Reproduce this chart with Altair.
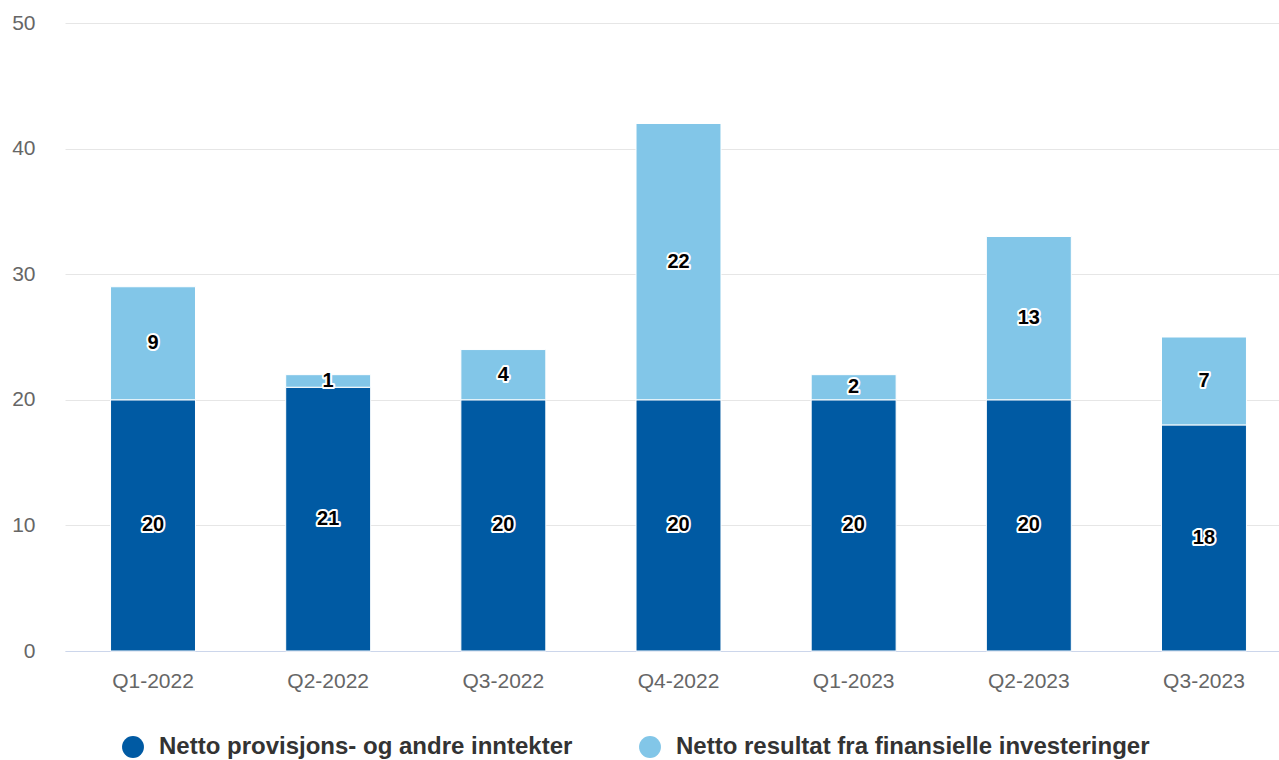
import altair as alt
import pandas as pd

# Quarterly figures (MNOK)
quarters = ["Q1-2022", "Q2-2022", "Q3-2022", "Q4-2022", "Q1-2023", "Q2-2023", "Q3-2023"]
provisjon = [20, 21, 20, 20, 20, 20, 18]
finansielle = [9, 1, 4, 22, 2, 13, 7]

series_names = [
    "Netto provisjons- og andre inntekter",
    "Netto resultat fra finansielle investeringer",
]
series_colors = ["#005aa3", "#82c6e8"]

rows = []
for q, a, b in zip(quarters, provisjon, finansielle):
    rows.append({"quarter": q, "series": series_names[0], "order": 0, "value": a})
    rows.append({"quarter": q, "series": series_names[1], "order": 1, "value": b})
df = pd.DataFrame(rows)

FONT = "Liberation Sans"

x_enc = alt.X(
    "quarter:N",
    sort=quarters,
    scale=alt.Scale(paddingInner=0.515, paddingOuter=0.26, range=[0, 1227]),
    axis=alt.Axis(
        title=None,
        labelAngle=0,
        labelFontSize=21,
        labelColor="#666666",
        labelFont=FONT,
        labelPadding=19,
        ticks=False,
        domainColor="#ccd6eb",
        domainWidth=1,
        grid=False,
    ),
)

base = alt.Chart(df).transform_stack(
    stack="value",
    groupby=["quarter"],
    as_=["y0", "y1"],
    sort=[alt.SortField("order", "ascending")],
).transform_calculate(mid="(datum.y0 + datum.y1) / 2")

bars = base.mark_bar(stroke="white", strokeWidth=1).encode(
    x=x_enc,
    y=alt.Y(
        "y0:Q",
        scale=alt.Scale(domain=[0, 50], nice=False),
        axis=alt.Axis(
            title=None,
            values=[0, 10, 20, 30, 40, 50],
            labelFontSize=21,
            labelColor="#666666",
            labelFont=FONT,
            labelPadding=30,
            ticks=False,
            domain=False,
            gridColor="#e6e6e6",
            gridWidth=1,
        ),
    ),
    y2="y1:Q",
    color=alt.Color(
        "series:N",
        scale=alt.Scale(domain=series_names, range=series_colors),
        legend=alt.Legend(
            title=None,
            orient="none",
            legendX=56,
            legendY=712,
            direction="horizontal",
            columns=2,
            symbolType="circle",
            symbolSize=480,
            symbolStrokeWidth=0,
            labelFontSize=24,
            labelFontWeight="bold",
            labelFont=FONT,
            labelColor="#333333",
            labelOffset=14,
            columnPadding=65,
            labelLimit=700,
        ),
    ),
    order=alt.Order("order:Q"),
)

halo = base.mark_text(
    font=FONT, fontSize=20, fontWeight="bold", color="white",
    stroke="white", strokeWidth=4, strokeJoin="round",
).encode(x=alt.X("quarter:N", sort=quarters), y="mid:Q", text="value:Q")

labels = base.mark_text(
    font=FONT, fontSize=20, fontWeight="bold", color="black",
).encode(x=alt.X("quarter:N", sort=quarters), y="mid:Q", text="value:Q")

chart = (
    alt.layer(bars, halo, labels)
    .properties(
        width=1214,
        height=628,
        padding={"left": 65, "top": 23, "right": 0, "bottom": 109},
        autosize=alt.AutoSizeParams(type="none"),
        background="white",
    )
    .configure_view(stroke=None)
)

chart.save("out.html", embed_options={"renderer": "svg", "actions": False})
